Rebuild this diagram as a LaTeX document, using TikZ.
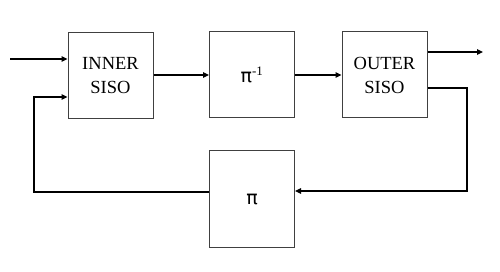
\documentclass[tikz,border=0pt]{standalone}
\usepackage{fontspec}
\setmainfont{Liberation Serif}
\newfontfamily\pifont{DejaVu Sans}
\usetikzlibrary{arrows.meta}
\begin{document}
\begin{tikzpicture}[x=1pt,y=-1pt,
  blk/.style={draw=black!75,line width=1pt,fill=white,inner sep=0pt,
    minimum width=85pt,minimum height=86pt,align=center,
    font=\fontsize{18.5}{24}\selectfont},
  conn/.style={line width=1.1pt,black},
  arr/.style={conn,-{Triangle[length=6pt,width=5.5pt]}}]
\useasboundingbox[fill=white] (0,0) rectangle (500,272);
\node[blk] (inner) at (110.5,76) {INNER\\SISO};
\node[blk] (pinv) at (252,75) {{\pifont\fontsize{19}{24}\selectfont π}\textsuperscript{-1}};
\node[blk] (outer) at (384.5,75) {OUTER\\SISO};
\node[blk,minimum height=96pt] (pi) at (252,199) {\pifont\fontsize{19}{24}\selectfont π};
\coordinate (in) at (10,59);
\coordinate (fb1) at (34,192);
\coordinate (fb2) at (34,97);
\coordinate (outc) at (483,52);
\coordinate (r1) at (467,88);
\coordinate (r2) at (467,191);
\draw[arr] (in) -- (in -| inner.west);
\draw[arr] (pi.west |- fb1) -- (fb1) -- (fb2) -- (fb2 -| inner.west);
\draw[arr] (inner.east |- pinv) -- (pinv.west);
\draw[arr] (pinv.east) -- (outer.west);
\draw[arr] (outer.east |- outc) -- (outc);
\draw[arr] (outer.east |- r1) -- (r1) -- (r2) -- (r2 -| pi.east);
\end{tikzpicture}
\end{document}
